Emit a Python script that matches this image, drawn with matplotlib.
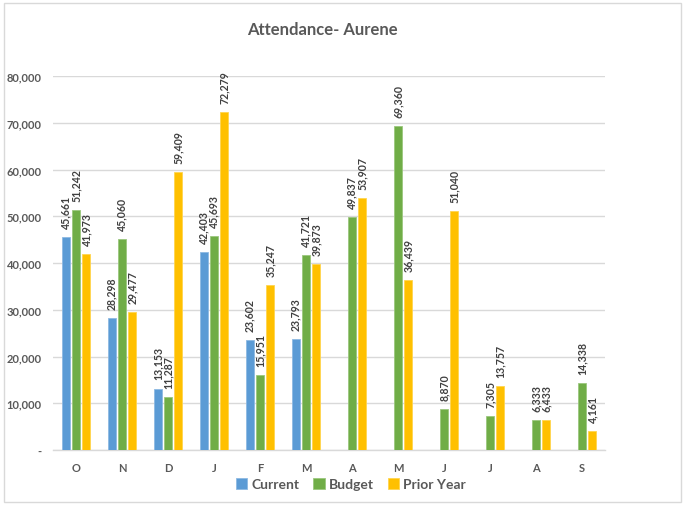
import matplotlib
matplotlib.use("Agg")
import matplotlib.pyplot as plt
import numpy as np
from matplotlib.patches import Rectangle

months = ["O", "N", "D", "J", "F", "M", "A", "M", "J", "J", "A", "S"]
current = [45661, 28298, 13153, 42403, 23602, 23793, None, None, None, None, None, None]
budget = [51242, 45060, 11287, 45693, 15951, 41721, 49837, 69360, 8870, 7305, 6333, 14338]
prior_year = [41973, 29477, 59409, 72279, 35247, 39873, 53907, 36439, 51040, 13757, 6433, 4161]
series_names = ["Current", "Budget", "Prior Year"]
colors = ["#5B9BD5", "#70AD47", "#FFC000"]
edge_colors = ["#8DB9E3", "#9BC77E", "#FFD54F"]
y_ticks = [0, 10000, 20000, 30000, 40000, 50000, 60000, 70000, 80000]

plt.rcParams["font.family"] = ["Lato", "DejaVu Sans"]
text_color = "#595959"

fig = plt.figure(figsize=(6.86, 5.06), dpi=100)
fig.patch.set_facecolor("white")
fig.add_artist(Rectangle((4 / 686, 3 / 506), 677 / 686, 499 / 506, transform=fig.transFigure,
                         fill=False, edgecolor="#D9D9D9", linewidth=1))

ax = fig.add_axes([53 / 686, 55 / 506, 552 / 686, 374 / 506])
x = np.arange(len(months))
width = 0.18
step = 0.225
for i, (vals, name) in enumerate(zip([current, budget, prior_year], series_names)):
    offs = (i - 1) * step
    xs = [xi + offs for xi, v in zip(x, vals) if v is not None]
    vs = [v for v in vals if v is not None]
    ax.bar(xs, vs, width=width, color=colors[i], edgecolor=edge_colors[i],
           linewidth=0.6, label=name, zorder=3)
    for xi, v in zip(xs, vs):
        ax.annotate(f"{v:,}", (xi, v), xytext=(0, 6.5), textcoords="offset points",
                    rotation=90, ha="center", va="bottom", fontsize=7.6,
                    fontweight="bold", color="#404040")

ax.set_xlim(-0.5, len(months) - 0.5)
ax.set_ylim(0, 80000)
ax.set_yticks(y_ticks)
ax.set_yticklabels(["-" if t == 0 else f"{t:,}" for t in y_ticks])
ax.set_xticks(x)
ax.set_xticklabels(months)
for lbl in ax.get_xticklabels() + ax.get_yticklabels():
    lbl.set_fontweight("bold")
    lbl.set_color(text_color)
    lbl.set_fontsize(8)
ax.tick_params(axis="both", length=0)
ax.tick_params(axis="x", pad=9)
ax.tick_params(axis="y", pad=8)
ax.grid(axis="y", color="#D9D9D9", linewidth=1, zorder=0)
for s in ["top", "right", "left"]:
    ax.spines[s].set_visible(False)
ax.spines["bottom"].set_color("#D9D9D9")
ax.spines["bottom"].set_linewidth(1)

fig.text(322 / 686, 1 - 30 / 506, "Attendance- Aurene", ha="center", va="center",
         fontsize=12, fontweight="bold", color=text_color)

leg = fig.legend(loc="center", bbox_to_anchor=(351 / 686, 1 - 485 / 506), ncol=3,
                 frameon=False, handlelength=0.8, handleheight=0.8, handletextpad=0.3,
                 columnspacing=1.0, prop={"size": 10, "weight": "bold"})
for t in leg.get_texts():
    t.set_color(text_color)

fig.savefig("out.png", dpi=100, facecolor="white")
